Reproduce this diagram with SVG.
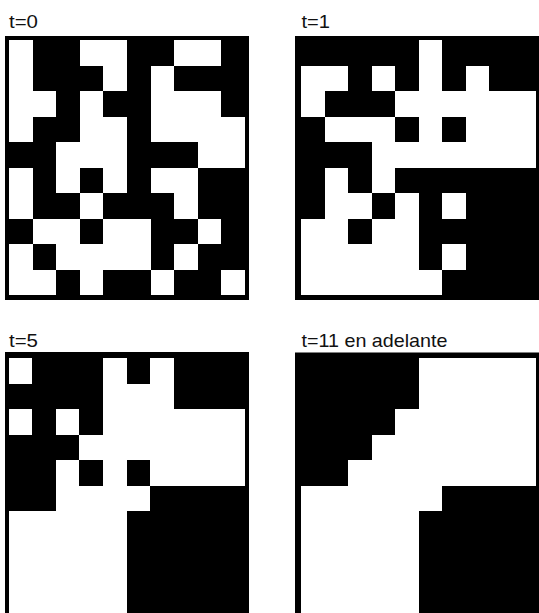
<svg xmlns="http://www.w3.org/2000/svg" width="539" height="613" viewBox="0 0 539 613">
<style>
.lbl{font-family:"Liberation Sans",Arial,sans-serif;font-size:18.5px;fill:#111}
.frame{fill:#000}
.w{fill:#fff}
.cells{shape-rendering:crispEdges}
</style>
<rect width="539" height="613" fill="#fff"/>
<g id="panel-t0">
<text class="lbl" x="9" y="28" textLength="29" lengthAdjust="spacingAndGlyphs">t=0</text>
<rect class="frame" x="5" y="36" width="244" height="264"/>
<g class="cells w" transform="translate(9,40) scale(23.6,25.5)">
<rect x="0" y="0" width="1" height="1"/><rect x="3" y="0" width="2" height="1"/><rect x="7" y="0" width="2" height="1"/>
<rect x="0" y="1" width="1" height="1"/><rect x="4" y="1" width="1" height="1"/><rect x="6" y="1" width="1" height="1"/>
<rect x="0" y="2" width="2" height="1"/><rect x="3" y="2" width="1" height="1"/><rect x="6" y="2" width="3" height="1"/>
<rect x="0" y="3" width="1" height="1"/><rect x="3" y="3" width="2" height="1"/><rect x="6" y="3" width="4" height="1"/>
<rect x="2" y="4" width="3" height="1"/><rect x="8" y="4" width="2" height="1"/>
<rect x="0" y="5" width="1" height="1"/><rect x="2" y="5" width="1" height="1"/><rect x="4" y="5" width="1" height="1"/><rect x="6" y="5" width="2" height="1"/>
<rect x="0" y="6" width="1" height="1"/><rect x="3" y="6" width="1" height="1"/><rect x="7" y="6" width="1" height="1"/>
<rect x="1" y="7" width="2" height="1"/><rect x="4" y="7" width="2" height="1"/><rect x="8" y="7" width="1" height="1"/>
<rect x="0" y="8" width="1" height="1"/><rect x="2" y="8" width="4" height="1"/><rect x="7" y="8" width="1" height="1"/>
<rect x="0" y="9" width="2" height="1"/><rect x="3" y="9" width="1" height="1"/><rect x="6" y="9" width="1" height="1"/><rect x="9" y="9" width="1" height="1"/>
</g>
</g>
<g id="panel-t1">
<text class="lbl" x="301.5" y="28" textLength="28.5" lengthAdjust="spacingAndGlyphs">t=1</text>
<rect class="frame" x="295" y="36" width="244" height="264"/>
<g class="cells w" transform="translate(301,40) scale(23.5,25.5)">
<rect x="5" y="0" width="1" height="1"/>
<rect x="0" y="1" width="2" height="1"/><rect x="3" y="1" width="1" height="1"/><rect x="5" y="1" width="1" height="1"/><rect x="7" y="1" width="1" height="1"/>
<rect x="0" y="2" width="1" height="1"/><rect x="4" y="2" width="6" height="1"/>
<rect x="1" y="3" width="3" height="1"/><rect x="5" y="3" width="1" height="1"/><rect x="7" y="3" width="3" height="1"/>
<rect x="3" y="4" width="7" height="1"/>
<rect x="1" y="5" width="1" height="1"/><rect x="3" y="5" width="1" height="1"/>
<rect x="1" y="6" width="2" height="1"/><rect x="4" y="6" width="1" height="1"/><rect x="6" y="6" width="1" height="1"/>
<rect x="0" y="7" width="2" height="1"/><rect x="3" y="7" width="2" height="1"/>
<rect x="0" y="8" width="5" height="1"/><rect x="6" y="8" width="1" height="1"/>
<rect x="0" y="9" width="6" height="1"/>
</g>
</g>
<g id="panel-t5">
<text class="lbl" x="9" y="346.5" textLength="29" lengthAdjust="spacingAndGlyphs">t=5</text>
<rect class="frame" x="5" y="352" width="244" height="265"/>
<g class="cells w" transform="translate(8.5,358) scale(23.65,25.5)">
<rect x="0" y="0" width="1" height="1"/><rect x="4" y="0" width="1" height="1"/><rect x="6" y="0" width="1" height="1"/>
<rect x="4" y="1" width="3" height="1"/>
<rect x="0" y="2" width="1" height="1"/><rect x="2" y="2" width="1" height="1"/><rect x="4" y="2" width="6" height="1"/>
<rect x="3" y="3" width="7" height="1"/>
<rect x="2" y="4" width="1" height="1"/><rect x="4" y="4" width="1" height="1"/><rect x="6" y="4" width="4" height="1"/>
<rect x="2" y="5" width="4" height="1"/>
<rect x="0" y="6" width="5" height="4.5"/>
</g>
</g>
<g id="panel-t11">
<text class="lbl" x="301.5" y="346.5" textLength="146" lengthAdjust="spacingAndGlyphs">t=11 en adelante</text>
<rect class="frame" x="295" y="352.5" width="244" height="265"/>
<g class="cells w" transform="translate(301,358) scale(23.5,25.5)">
<rect x="5" y="0" width="5" height="2"/>
<rect x="4" y="2" width="6" height="1"/>
<rect x="3" y="3" width="7" height="1"/>
<rect x="2" y="4" width="8" height="1"/>
<rect x="0" y="5" width="6" height="1"/>
<rect x="0" y="6" width="5" height="4.5"/>
</g>
</g>
</svg>
